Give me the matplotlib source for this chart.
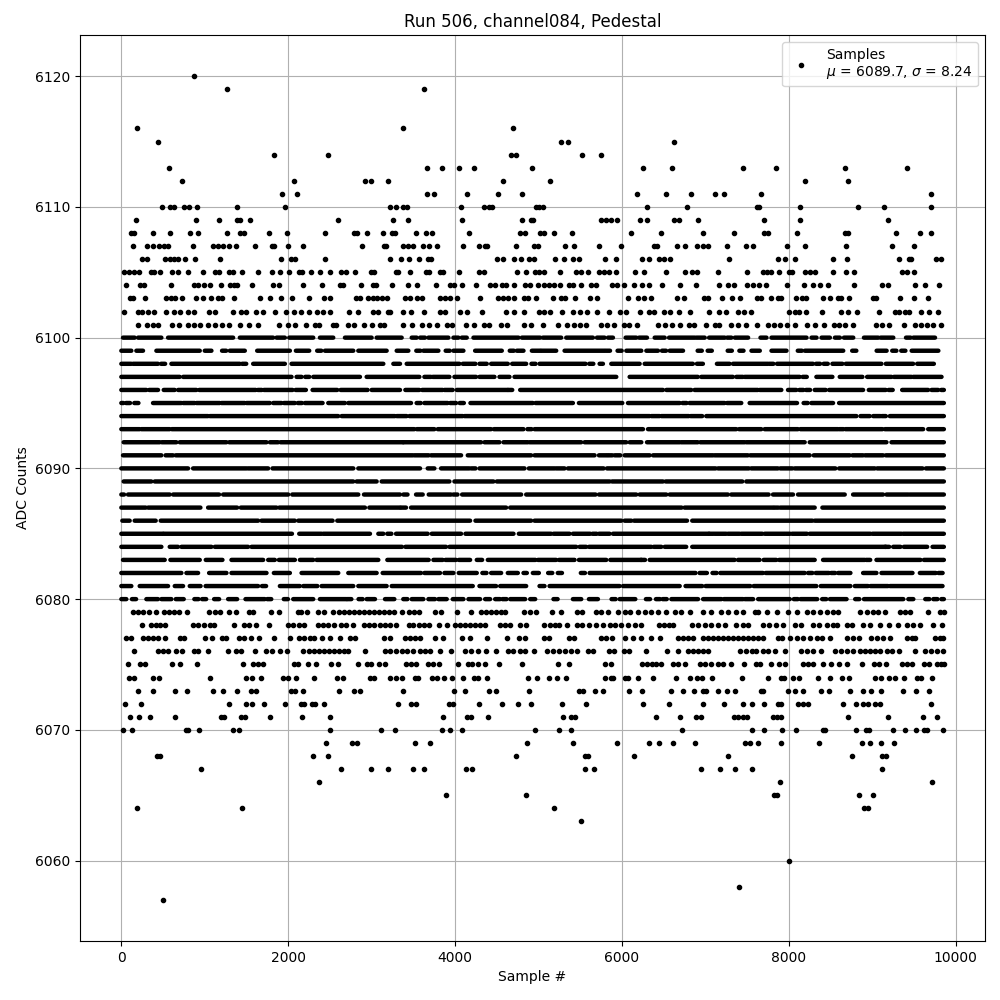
import numpy as np
import matplotlib
matplotlib.use("Agg")
import matplotlib.pyplot as plt

# Sparse ADC levels: sample positions of individual dots.
s6120 = [868]
s6119 = [1264, 3628]
s6116 = [184, 3376, 4696]
s6115 = [436, 5272, 5356, 6628]
s6114 = [1828, 2476, 4672, 4732, 5524, 5752]
s6113 = [568, 3664, 3844, 4048, 4228, 4924, 6256, 6604, 7456, 7852, 8668, 9412]
s6112 = [724, 2068, 2920, 2992, 3196, 4576, 5140, 8188, 8704]
s6111 = [1924, 2104, 3668, 3748, 4144, 4516, 4804, 6184, 6532, 6832, 7120, 7228, 7672, 9700]
s6110 = [484, 584, 636, 748, 816, 912, 1384, 1960, 3220, 3292, 3376, 3424, 4072, 4348, 4408, 4440, 4972, 5008, 5048, 6304, 6784, 7624, 7648, 8128, 8824, 9136, 9700]
s6109 = [172, 896, 1168, 1384, 1420, 1540, 2596, 3256, 3436, 4084, 4804, 4908, 4936, 5752, 5812, 5872, 5944, 6220, 6304, 6628, 6688, 6916, 7708, 8128, 9184]
s6108 = [116, 148, 380, 580, 820, 920, 1264, 1420, 1468, 1768, 1984, 2440, 2788, 2828, 2944, 3136, 3240, 3276, 3532, 3652, 3724, 4168, 4780, 4836, 5020, 5068, 5188, 5404, 6112, 6472, 6976, 7348, 7708, 7756, 8092, 8668, 8704, 9280, 9568, 9700]
s6107 = [136, 304, 376, 448, 508, 560, 856, 1096, 1156, 1216, 1288, 1372, 1600, 1804, 1828, 1996, 2176, 2884, 3148, 3176, 3376, 3436, 3496, 3616, 3688, 3784, 4096, 4288, 4360, 4388, 4732, 4948, 4996, 5320, 5428, 5728, 5992, 6388, 6424, 6664, 6760, 6904, 6976, 7036, 7264, 7492, 7576, 7972, 8188, 8680, 9232, 9496]
s6106 = [244, 304, 520, 580, 628, 676, 760, 880, 1180, 1912, 2032, 2080, 2444, 3220, 3352, 3448, 3568, 3676, 3712, 4500, 4576, 4708, 4792, 4888, 4948, 5200, 5308, 5416, 5488, 5800, 5932, 6244, 6328, 6448, 6508, 6580, 7288, 7876, 7948, 8068, 8524, 8692, 9316, 9436, 9460, 9760, 9820]
s6105 = [28, 88, 148, 208, 352, 388, 460, 604, 676, 796, 976, 1120, 1168, 1288, 1336, 1444, 1636, 1804, 1900, 2008, 2128, 2164, 2272, 2380, 2500, 2632, 2692, 2800, 2992, 3028, 3292, 3316, 3460, 3652, 3688, 3820, 3856, 4048, 4288, 4348, 4744, 4852, 4960, 5008, 5068, 5260, 5452, 5512, 5596, 5728, 5788, 5848, 5932, 6160, 6268, 6532, 6760, 6844, 6904, 7156, 7504, 7696, 7744, 7792, 7888, 7996, 8032, 8188, 8248, 8308, 8524, 8680, 8776, 9352, 9412, 9496]
s6104 = [52, 220, 268, 592, 868, 916, 988, 1060, 1192, 1300, 1348, 1384, 1572, 1816, 1888, 2176, 2404, 2620, 2656, 2872, 3016, 3052, 3240, 3436, 3544, 3772, 3940, 3988, 4084, 4252, 4420, 4480, 4564, 4612, 4708, 4840, 4900, 4996, 5068, 5128, 5188, 5260, 5368, 5416, 5512, 5632, 5692, 5884, 5944, 6028, 6148, 6244, 6328, 6484, 6700, 6892, 7168, 7276, 7348, 7504, 7576, 7648, 7732, 7972, 8176, 8284, 8368, 8464, 8776, 9112, 9184, 9508, 9628, 9796]
s6103 = [100, 136, 280, 532, 592, 640, 724, 892, 976, 1072, 1156, 1204, 1348, 1660, 1780, 1912, 2044, 2248, 2428, 2500, 2812, 2860, 2956, 3016, 3064, 3124, 3184, 3400, 3460, 3544, 3604, 3820, 3880, 3940, 4024, 4300, 4516, 4576, 4636, 4708, 4828, 4876, 4972, 5176, 5272, 5320, 5440, 5620, 5704, 6076, 6188, 6268, 6352, 6664, 6748, 6988, 7036, 7204, 7324, 7420, 7624, 7672, 7792, 7876, 7912, 8080, 8152, 8200, 8404, 8488, 8584, 8628, 8716, 9004, 9040, 9328, 9496, 9664]
s6102 = [28, 196, 244, 316, 388, 532, 628, 700, 796, 868, 1048, 1120, 1336, 1432, 1492, 1612, 1696, 1840, 1972, 2068, 2152, 2248, 2344, 2416, 2500, 2728, 2836, 3016, 3076, 3196, 3220, 3376, 3472, 3628, 3820, 3880, 4060, 4144, 4324, 4612, 4708, 4828, 5008, 5068, 5140, 5284, 5416, 5500, 5584, 5704, 5848, 5980, 6052, 6220, 6328, 6388, 6508, 6580, 6688, 6820, 7048, 7168, 7252, 7388, 7468, 7552, 7996, 8068, 8116, 8200, 8392, 8620, 8704, 8812, 9076, 9268, 9316, 9388, 9436, 9580, 9676, 9784]
s6101 = [196, 304, 376, 436, 604, 688, 796, 868, 948, 1036, 1120, 1204, 1288, 1420, 1528, 1636, 1888, 1996, 2080, 2212, 2320, 2368, 2536, 2572, 2716, 2788, 2908, 3004, 3100, 3148, 3376, 3484, 3608, 3688, 3788, 3908, 3968, 4128, 4228, 4348, 4408, 4548, 4620, 4828, 4908, 5048, 5236, 5344, 5428, 5500, 5572, 5752, 5824, 5908, 6028, 6088, 6184, 6436, 6520, 6604, 6700, 6808, 6868, 7012, 7120, 7168, 7312, 7396, 7492, 7624, 7756, 7828, 7900, 7972, 8068, 8212, 8308, 8416, 8536, 8596, 8668, 8764, 9040, 9112, 9196, 9376, 9508, 9580, 9652, 9724, 9820]
s6079 = [136, 196, 256, 328, 412, 508, 568, 628, 688, 784, 1048, 1120, 1180, 1288, 1372, 1528, 1576, 1792, 1888, 2116, 2152, 2224, 2356, 2428, 2536, 2608, 2668, 2728, 2788, 2848, 2908, 2968, 3028, 3088, 3148, 3208, 3268, 3368, 3448, 3508, 3568, 3760, 3828, 4024, 4192, 4312, 4372, 4432, 4492, 4552, 4600, 4828, 4900, 4972, 5164, 5268, 5460, 5520, 5692, 5752, 5832, 5952, 6032, 6100, 6192, 6272, 6352, 6432, 6524, 6632, 6712, 6812, 6972, 7072, 7192, 7272, 7372, 7452, 7592, 7632, 7736, 7864, 7992, 8100, 8212, 8292, 8372, 8452, 8532, 8592, 8852, 8932, 9012, 9072, 9156, 9332, 9392, 9452, 9672, 9812, 9858]
s6078 = [244, 352, 412, 460, 520, 856, 916, 988, 1060, 1108, 1348, 1468, 1528, 1612, 1768, 1996, 2056, 2128, 2188, 2356, 2416, 2476, 2548, 2632, 2692, 2776, 2908, 2968, 3028, 3100, 3160, 3220, 3292, 3448, 3496, 3568, 3628, 3688, 3808, 3904, 4000, 4060, 4120, 4180, 4240, 4300, 4360, 4540, 4600, 4660, 4780, 4852, 5064, 5132, 5192, 5244, 5340, 5460, 5520, 5604, 5692, 5772, 5852, 5912, 5992, 6072, 6152, 6232, 6444, 6504, 6564, 6612, 6840, 6912, 6992, 7072, 7152, 7240, 7372, 7452, 7512, 7692, 7764, 7848, 7932, 8072, 8140, 8284, 8364, 8452, 8532, 8580, 8692, 8760, 8892, 8972, 9092, 9204, 9312, 9412, 9492, 9572, 9732, 9832]
s6077 = [52, 112, 256, 316, 376, 436, 520, 700, 748, 1000, 1084, 1204, 1252, 1408, 1468, 1552, 1648, 1828, 2020, 2128, 2188, 2260, 2308, 2404, 2500, 2620, 2740, 2800, 3148, 3220, 3400, 3460, 3520, 3580, 3760, 3856, 4084, 4180, 4384, 4624, 4768, 4840, 5064, 5124, 5364, 5424, 5748, 5808, 5880, 6036, 6132, 6228, 6348, 6456, 6672, 6732, 6792, 6852, 6972, 7032, 7092, 7152, 7212, 7272, 7332, 7392, 7452, 7512, 7572, 7632, 7692, 7872, 7920, 8012, 8092, 8172, 8252, 8332, 8400, 8492, 8692, 8772, 8844, 8988, 9052, 9132, 9212, 9412, 9472, 9516, 9752, 9812, 9852]
s6076 = [148, 436, 496, 556, 652, 724, 868, 916, 1036, 1276, 1372, 1432, 1600, 1732, 1804, 1900, 1984, 2176, 2248, 2308, 2368, 2428, 2488, 2548, 2608, 2668, 2716, 2920, 3160, 3220, 3292, 3364, 3424, 3496, 3580, 3640, 3700, 3820, 3952, 4120, 4192, 4276, 4372, 4492, 4636, 4696, 4780, 4840, 4948, 5100, 5172, 5244, 5316, 5388, 5460, 5592, 5652, 5844, 5904, 6024, 6084, 6288, 6540, 6672, 6792, 6852, 6912, 6972, 7032, 7412, 7484, 7556, 7612, 7692, 7752, 7832, 7952, 8148, 8212, 8284, 8384, 8556, 8628, 8700, 8772, 8852, 8912, 8972, 9032, 9092, 9172, 9232, 9324, 9516, 9636, 9708, 9780, 9852]
s6075 = [76, 220, 280, 604, 700, 904, 1456, 1576, 1636, 1696, 2068, 2116, 2236, 2332, 2512, 2596, 2836, 2944, 2992, 3088, 3160, 3412, 3472, 3532, 3676, 3736, 3808, 4036, 4156, 4204, 4276, 4360, 4528, 4804, 5232, 5364, 5796, 5868, 6240, 6300, 6360, 6408, 6468, 6612, 6672, 6756, 6936, 6996, 7068, 7152, 7212, 7308, 7464, 7608, 7656, 7788, 7884, 7956, 8172, 8232, 8292, 8412, 8508, 8604, 8700, 8872, 9024, 9084, 9168, 9360, 9420, 9480, 9624, 9684, 9780, 9828, 9858]
s6074 = [88, 148, 376, 448, 1060, 1492, 1564, 1672, 1936, 1996, 2092, 2308, 2584, 2656, 2980, 3028, 3220, 3292, 3364, 3520, 3556, 3724, 3784, 3868, 3964, 4096, 4228, 4276, 4384, 4876, 4984, 5124, 5220, 5328, 5796, 5868, 5892, 6036, 6072, 6192, 6372, 6648, 6816, 6900, 6960, 7080, 7440, 7752, 7908, 7944, 8052, 8124, 8352, 8496, 8640, 8724, 9036, 9108, 9204, 9276, 9384, 9540, 9588, 9720]
s6073 = [196, 376, 640, 784, 1096, 1216, 1384, 1552, 1612, 2032, 2080, 2176, 2608, 2788, 2860, 3376, 3988, 4120, 4408, 4492, 4888, 5484, 5532, 5676, 5772, 6084, 6240, 6588, 6732, 6864, 6972, 7008, 7152, 7260, 7356, 7668, 7692, 7992, 8076, 8172, 8388, 8484, 8736, 8892, 8988, 9108, 9372, 9528, 9684]
s6072 = [48, 232, 1288, 1492, 1564, 1708, 1960, 2152, 2188, 2284, 2320, 2428, 3316, 3472, 3532, 3928, 3976, 4288, 4564, 4756, 4912, 5280, 5568, 6252, 6564, 6972, 7224, 7452, 7560, 7704, 7872, 7908, 8112, 8172, 8232, 8652, 8808, 8892, 8952, 9036, 9096, 9708]
s6071 = [100, 208, 340, 640, 1192, 1228, 1432, 1480, 1780, 2164, 2500, 3856, 4144, 4192, 4396, 5292, 5388, 5436, 6408, 6696, 6888, 6948, 7344, 7392, 7452, 7500, 7812, 7860, 7908, 8712, 9192, 9612, 9780]
s6070 = [16, 124, 772, 796, 928, 1336, 1408, 2500, 3112, 3280, 3844, 3940, 4084, 4960, 5244, 5388, 6720, 7560, 7704, 7920, 8088, 8412, 8436, 8808, 8928, 8964, 9252, 9396, 9528, 9624, 9660, 9852]
s6069 = [2452, 2764, 2824, 3520, 3700, 4864, 5412, 5940, 6324, 6444, 6612, 6876, 7476, 7536, 7632, 7908, 8364, 8880, 8976, 9108, 9264]
s6068 = [428, 460, 2296, 2476, 4732, 5556, 5592, 6144, 7272, 8760, 9120, 9168]
s6067 = [952, 2632, 2992, 3196, 3496, 3628, 4132, 4204, 5556, 5664, 6948, 7176, 7356, 7560, 9120]
s6066 = [2368, 7896, 9720]
s6065 = [3892, 4852, 7824, 7860, 8844, 9012]
s6064 = [184, 1444, 5184, 8904, 8952]
s6063 = [5508]
s6060 = [8004]
s6058 = [7404]
s6057 = [496]

sparse_levels = [6120, 6119, 6116, 6115, 6114, 6113, 6112, 6111, 6110, 6109, 6108, 6107, 6106, 6105, 6104, 6103, 6102, 6101,
                 6079, 6078, 6077, 6076, 6075, 6074, 6073, 6072, 6071, 6070, 6069, 6068, 6067, 6066, 6065, 6064, 6063, 6060, 6058, 6057]
sparse_samples = [s6120, s6119, s6116, s6115, s6114, s6113, s6112, s6111, s6110, s6109, s6108, s6107, s6106, s6105, s6104, s6103, s6102, s6101,
                  s6079, s6078, s6077, s6076, s6075, s6074, s6073, s6072, s6071, s6070, s6069, s6068, s6067, s6066, s6065, s6064, s6063, s6060, s6058, s6057]

# Dense ADC levels: overlapping dots merge into runs, so each level lists (start, end) pairs.
r6100 = [20,160, 200,480, 560,1340, 1420,1820, 1860,1960, 2012,2300, 2380,2540, 2680,3000, 3060,3360, 3480,3540, 3580,3640, 3680,3920, 3980,4040, 4080,4140, 4220,4760, 4800,5020, 5052,5272, 5332,5652, 5700,5792, 5832,5892, 6044,6172, 6204,6300, 6392,6512, 6564,6872, 6892,6992, 7044,7232, 7260,7312, 7352,7512, 7660,7732, 7792,8212, 8272,8332, 8392,8492, 8552,8612, 8660,8772, 8900,9072, 9100,9252, 9404,9460, 9492,9752]
r6099 = [0,120, 180,260, 420,940, 1000,1080, 1207,1257, 1300,1480, 1628,2020, 2092,2252, 2347,2397, 2440,2780, 2840,3180, 3300,3440, 3535,3585, 3620,3800, 3887,3937, 3980,4100, 4240,4560, 4655,4705, 4740,4820, 4920,5020, 5032,5212, 5312,5792, 5807,5857, 5947,5997, 6052,6232, 6292,6432, 6479,6529, 6572,6732, 6907,6957, 7027,7077, 7267,7317, 7407,7457, 7552,7652, 7792,7972, 8107,8157, 8192,8652, 8759,8809, 9052,9172, 9239,9289, 9347,9397, 9472,9792]
r6098 = [0,120, 140,440, 475,525, 600,1420, 1447,1497, 1580,1960, 2040,3140, 3260,3340, 3420,4052, 4092,4244, 4292,4380, 4432,4632, 4684,4852, 4915,4965, 5012,5564, 5607,5657, 5732,5772, 5872,6212, 6272,6850, 6898,6970, 7138,7290, 7330,7750, 7765,7815, 7858,8290, 8325,8375, 8417,8467, 8522,8642, 8682,9110, 9162,9490, 9538,9738]
r6097 = [0,700, 740,2040, 2100,2160, 2203,2253, 2300,2860, 2940,3572, 3632,3712, 3732,3932, 3992,4252, 4292,4472, 4532,4652, 4712,5932, 6092,6910, 6950,7330, 7370,7450, 7470,8130, 8165,8215, 8330,8522, 8610,8882, 8938,9230, 9258,9470, 9490,9830]
r6096 = [0,300, 332,440, 508,640, 680,900, 932,1612, 1635,1685, 1708,2052, 2088,2212, 2292,2588, 2628,2952, 3000,3340, 3404,3572, 3604,3852, 3872,3972, 4020,4632, 4635,4685, 4780,5992, 6004,6492, 6532,6830, 6870,7630, 7650,7910, 7990,8090, 8125,8175, 8205,8255, 8310,8442, 8482,8890, 8958,9162, 9195,9245, 9358,9670, 9710,9790, 9825,9858]
r6095 = [0,25, 55,105, 155,205, 380,720, 740,880, 900,1180, 1200,1480, 1500,1780, 1820,1920, 1948,2080, 2115,2165, 2200,2412, 2480,2680, 2720,3472, 3539,3589, 3632,3912, 3940,4012, 4055,4105, 4184,4932, 4964,5412, 5484,6004, 6072,6692, 6725,6775, 6810,7230, 7258,7430, 7530,7882, 7890,8098, 8177,8227, 8270,8530, 8602,9858]
r6094 = [0,1040, 1060,2600, 2640,3280, 3300,3420, 3452,4092, 4112,6332, 6352,6452, 6472,6802, 6822,6962, 7010,8810, 8858,8970, 9010,9098, 9113,9163, 9210,9858]
r6093 = [0,220, 240,580, 604,3512, 3540,3752, 3792,4432, 4464,4820, 4867,4917, 4952,6252, 6312,7370, 7402,7670, 7710,8110, 8138,8590, 8605,8655, 8678,9122, 9150,9610, 9670,9858]
r6092 = [28,460, 484,660, 700,1260, 1292,1740, 1780,1880, 1908,3377, 3380,4312, 4352,4532, 4580,4872, 4892,5512, 5552,6052, 6092,6232, 6300,6692, 6710,6910, 6938,7470, 7490,8190, 8250,9170, 9230,9858]
r6091 = [20,480, 530,620, 652,3492, 3512,3684, 3712,4072, 4152,4912, 4952,5672, 5724,5820, 5835,5885, 5912,5980, 6032,6332, 6372,7090, 7110,7510, 7538,8250, 8298,8730, 8762,8890, 8914,9130, 9162,9858]
r6090 = [0,800, 860,1500, 1520,1760, 1812,2780, 2840,3580, 3672,3752, 3832,4172, 4195,4245, 4292,4832, 4884,5192, 5212,5312, 5352,5780, 5820,7122, 7150,7522, 7550,7870, 7898,8042, 8070,8558, 8602,9030, 9058,9602, 9642,9858]
r6089 = [28,360, 400,2780, 2820,3060, 3120,3932, 3992,4460, 4500,5852, 5880,6492, 6524,7442, 7490,9858]
r6088 = [0,33, 80,580, 620,1172, 1220,2000, 2048,2840, 2908,3340, 3380,3430, 3532,3612, 3684,3952, 3979,4029, 4084,4792, 4852,5684, 5724,6172, 6212,6532, 6572,7270, 7310,7758, 7810,8050, 8110,8670, 8770,9130, 9170,9430, 9450,9858]
r6087 = [0,292, 320,948, 1040,1388, 1432,1860, 1892,2920, 2972,3340, 3352,3412, 3472,4612, 4660,6715, 6750,7810, 7825,7875, 7898,8310, 8402,9858]
r6086 = [12,100, 160,412, 472,1640, 1680,2080, 2120,2532, 2588,4180, 4244,4912, 4952,5992, 6032,6112, 6144,6780, 6842,8282, 8310,9858]
r6085 = [0,500, 508,1980, 1995,2045, 2132,2400, 2420,2980, 3080,3140, 3187,3237, 3292,3672, 3720,4072, 4124,4700, 4764,5152, 5180,5372, 5412,5620, 5647,5697, 5724,5852, 5892,7042, 7045,7095, 7110,7250, 7270,7410, 7430,7682, 7710,7950, 7965,8015, 8038,8218, 8250,8978, 9002,9350, 9370,9858]
r6084 = [0,480, 580,680, 720,1080, 1120,1520, 1560,3364, 3404,3892, 3932,5452, 5492,5572, 5604,6352, 6380,6472, 6512,6770, 6842,9162, 9153,9203, 9250,9338, 9378,9658, 9722,9858]
r6083 = [20,520, 588,940, 1012,1212, 1320,1700, 1760,1840, 1888,2080, 2140,2300, 2340,3080, 3188,3684, 3740,3852, 3884,4012, 4044,4180, 4260,4324, 4392,4964, 4992,5212, 5244,5432, 5484,5812, 5860,6232, 6227,6277, 6332,7350, 7390,7650, 7698,7850, 7882,8310, 8410,8910, 8925,8975, 9050,9578, 9618,9858]
r6082 = [0,720, 780,920, 1052,1260, 1320,1740, 1828,2020, 2160,2600, 2720,3060, 3132,3592, 3632,3820, 3872,3980, 4044,4260, 4327,4377, 4432,4552, 4632,4752, 4820,4860, 4932,5004, 5115,5165, 5231,5281, 5507,5557, 5612,6882, 6930,7018, 7085,7135, 7178,7690, 7722,8190, 8230,8282, 8322,8482, 8505,8555, 8590,8738, 8890,9050, 9110,9482, 9570,9762, 9793,9843]
r6081 = [0,120, 220,560, 640,740, 820,950, 1010,1640, 1685,1735, 1900,2140, 2180,2350, 2400,2780, 2840,3180, 3240,4212, 4292,4492, 4540,4852, 5012,5072, 5132,5972, 6012,6692, 6762,6962, 7002,7538, 7578,8330, 8382,8738, 8790,8950, 8978,9190, 9210,9842]
r6080 = [0,60, 127,177, 300,440, 480,600, 652,748, 875,925, 967,1017, 1112,1172, 1280,1388, 1488,1720, 1747,1797, 1947,1997, 2060,2300, 2380,2700, 2707,2757, 2843,2893, 2940,3040, 3160,3272, 3379,3429, 3480,3620, 3680,3760, 3800,3900, 3972,4100, 4160,4300, 4360,4420, 4480,4540, 4567,4617, 4660,4840, 4900,4960, 5179,5229, 5412,5512, 5604,5712, 5875,5925, 5972,6160, 6287,6337, 6407,6457, 6487,6537, 6592,6912, 6972,7192, 7220,7452, 7472,7572, 7632,8012, 8059,8109, 8140,8340, 8399,8449, 8492,8692, 8795,8845, 8900,9372, 9432,9492, 9635,9685, 9731,9781, 9827,9858]

dense_levels = [6100, 6099, 6098, 6097, 6096, 6095, 6094, 6093, 6092, 6091, 6090, 6089, 6088, 6087, 6086, 6085, 6084, 6083, 6082, 6081, 6080]
dense_runs = [r6100, r6099, r6098, r6097, r6096, r6095, r6094, r6093, r6092, r6091, r6090, r6089, r6088, r6087, r6086, r6085, r6084, r6083, r6082, r6081, r6080]

sample_index = np.concatenate([np.asarray(v, dtype=float) for v in sparse_samples])
adc_counts = np.concatenate([np.full(len(v), lvl, dtype=float) for lvl, v in zip(sparse_levels, sparse_samples)])

fig, ax = plt.subplots(figsize=(10, 10), dpi=100)
ax.plot(sample_index, adc_counts, "k.", label="Samples\n$\\mu$ = 6089.7, $\\sigma$ = 8.24")
for lvl, runs in zip(dense_levels, dense_runs):
    pairs = np.asarray(runs, dtype=float).reshape(-1, 2)
    bars = ax.hlines(np.full(len(pairs), lvl), pairs[:, 0], pairs[:, 1], colors="k", linewidth=3.2)
    bars.set_capstyle("round")
    bars.set_snap(False)
ax.set_title("Run 506, channel084, Pedestal")
ax.set_xlabel("Sample #")
ax.set_ylabel("ADC Counts")
ax.grid(True)
ax.legend(loc="upper right")
fig.subplots_adjust(left=0.0802, right=0.985, top=0.965, bottom=0.059)
fig.savefig("out.png", dpi=100)
